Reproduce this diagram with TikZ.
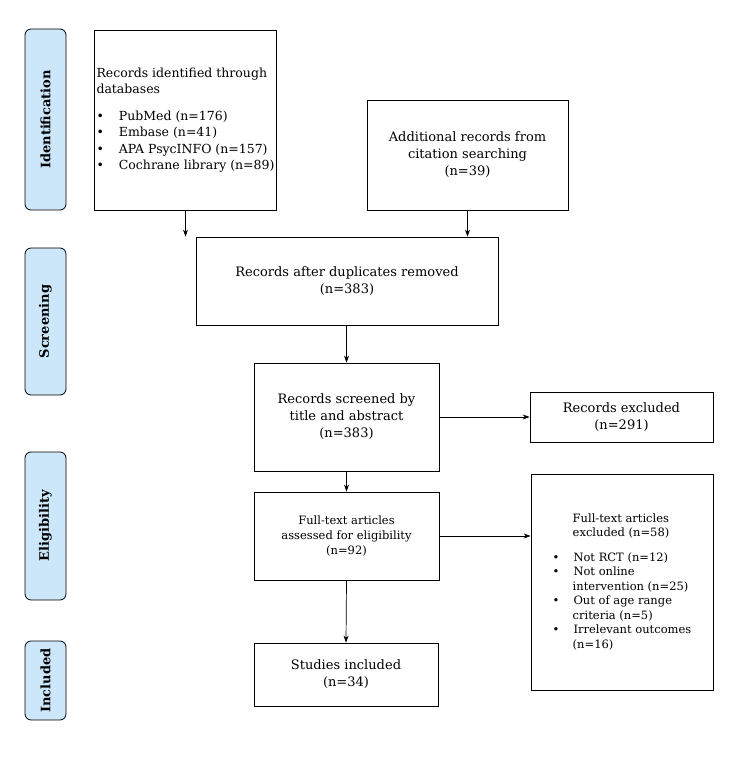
\documentclass[tikz,border=0pt]{standalone}
\usepackage{fontspec}
\setmainfont{DejaVu Serif}
\usetikzlibrary{arrows.meta}
\definecolor{phasebg}{RGB}{205,231,250}
\begin{document}
\begin{tikzpicture}[x=1pt,y=-1pt,
  box/.style={draw,line width=0.8pt,align=center,inner sep=2pt,font=\fontsize{13}{17}\selectfont},
  phase/.style={draw,line width=0.8pt,rounded corners=6pt,fill=phasebg,minimum height=41pt,rotate=90,font=\bfseries\fontsize{13}{15}\selectfont},
  arr/.style={-{Stealth[length=7pt,width=5pt]},line width=0.7pt}]
\useasboundingbox (0,0) rectangle (752,775);
\node[phase,minimum width=181pt] (p1) at (45.5,119.5) {Identification};
\node[phase,minimum width=147pt] (p2) at (45.5,321.5) {Screening};
\node[phase,minimum width=148pt] (p3) at (45.5,526) {Eligibility};
\node[phase,minimum width=79pt] (p4) at (45.5,680.5) {Included};
\node[box,minimum width=179pt,minimum height=180pt,align=left,font=\fontsize{12.5}{16.5}\selectfont] (db) at (185.5,120) {Records identified through\\databases\\[10pt]
\textbullet\hspace*{15pt}PubMed (n=176)\\\textbullet\hspace*{15pt}Embase (n=41)\\\textbullet\hspace*{15pt}APA PsycINFO (n=157)\\\textbullet\hspace*{15pt}Cochrane library (n=89)};
\node[box,minimum width=201pt,minimum height=110pt] (add) at (467.5,155) {Additional records from\\citation searching\\(n=39)};
\node[box,minimum width=302pt,minimum height=88pt] (dup) at (347,281) {Records after duplicates removed\\(n=383)};
\node[box,minimum width=185pt,minimum height=108pt] (scr) at (346.5,417) {Records screened by\\title and abstract\\(n=383)};
\node[box,minimum width=183pt,minimum height=50pt] (ex1) at (621.5,417) {Records excluded\\(n=291)};
\node[box,minimum width=185pt,minimum height=88pt,font=\fontsize{11.5}{15}\selectfont] (ft) at (346.5,536) {Full-text articles\\assessed for eligibility\\(n=92)};
\node[box,minimum width=182pt,minimum height=216pt,align=left,font=\fontsize{11.5}{14.5}\selectfont] (ex2) at (622,582) {\hspace*{20pt}Full-text articles\\\hspace*{20pt}excluded (n=58)\\[10pt]
\textbullet\hspace*{14pt}Not RCT (n=12)\\\textbullet\hspace*{14pt}Not online\\\hspace*{20pt}intervention (n=25)\\\textbullet\hspace*{14pt}Out of age range\\\hspace*{20pt}criteria (n=5)\\\textbullet\hspace*{14pt}Irrelevant outcomes\\\hspace*{20pt}(n=16)};
\node[box,minimum width=184pt,minimum height=63pt] (inc) at (346,674.5) {Studies included\\(n=34)};
\draw[arr] (db.south) -- (db.south|-dup.north);
\draw[arr] (add.south) -- (add.south|-dup.north);
\draw[arr] (dup.south-|scr.north) -- (scr.north);
\draw[arr] (scr.east) -- (ex1.west);
\draw[arr] (scr.south) -- (ft.north);
\draw[arr] (ft.east) -- (ft.east-|ex2.west);
\draw[arr] (ft.south) -- (inc.north);
\end{tikzpicture}
\end{document}
